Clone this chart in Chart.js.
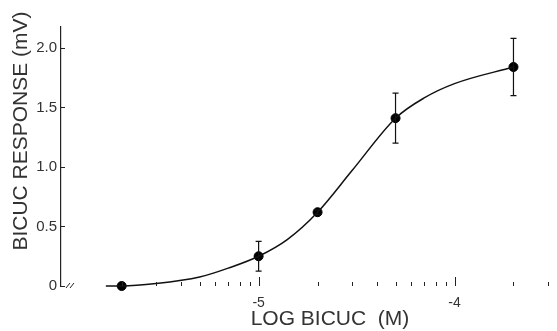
<!DOCTYPE html>
<html>
<head>
<meta charset="utf-8">
<script src="https://cdn.jsdelivr.net/npm/chart.js@4/dist/chart.umd.min.js"></script>
<style>
  html, body { margin: 0; padding: 0; background: #fff; }
</style>
</head>
<body>
<canvas id="grafico" width="557" height="331"></canvas>
<script>
// Dados: concentração de bicuculina (M) x resposta (mV)
var concentracoes = [2e-6, 1e-5, 2e-5, 5e-5, 2e-4];
var respostas = [0.0, 0.25, 0.62, 1.41, 1.84];
var erros = [0, 0.125, 0.02, 0.21, 0.24];

// Curva ajustada (pontos lidos ao longo da linha)
var curvaConc = [1.66e-6, 2e-6, 3e-6, 5e-6, 7e-6, 1e-5, 1.4e-5, 2e-5, 3e-5, 5e-5, 7e-5, 1e-4, 2e-4];
var curvaResp = [0.0, 0.0, 0.02, 0.075, 0.15, 0.25, 0.39, 0.62, 0.97, 1.41, 1.58, 1.70, 1.84];

// Marcas dos eixos
var marcasX = [
  2e-6, 3e-6, 4e-6, 5e-6, 6e-6, 7e-6, 8e-6, 9e-6,
  1e-5, 2e-5, 3e-5, 4e-5, 5e-5, 6e-5, 7e-5, 8e-5, 9e-5,
  1e-4, 2e-4, 3e-4,
];
var rotulosX = ["-5", "-4"];
var marcasY = [0, 0.5, 1.0, 1.5, 2.0];
var rotulosY = ["0", "0.5", "1.0", "1.5", "2.0"];

var tituloX = "LOG BICUC  (M)";
var tituloY = "BICUC RESPONSE (mV)";

var corTexto = "#333";
var fonte = "'Liberation Sans', Arial, sans-serif";

function ehDecada(v) {
  var lg = Math.log10(v);
  return Math.abs(lg - Math.round(lg)) < 1e-6;
}

// Barras de erro
var barrasErro = {
  id: "barrasErro",
  afterDatasetsDraw: function (chart) {
    var ctx = chart.ctx;
    var sx = chart.scales.x;
    var sy = chart.scales.y;
    ctx.save();
    ctx.strokeStyle = "#111";
    ctx.lineWidth = 1.2;
    for (var i = 0; i < concentracoes.length; i++) {
      if (!erros[i]) continue;
      var px = sx.getPixelForValue(concentracoes[i]);
      var topo = sy.getPixelForValue(respostas[i] + erros[i]);
      var base = sy.getPixelForValue(respostas[i] - erros[i]);
      ctx.beginPath();
      ctx.moveTo(px, topo);
      ctx.lineTo(px, base);
      ctx.moveTo(px - 3, topo);
      ctx.lineTo(px + 3, topo);
      ctx.moveTo(px - 3, base);
      ctx.lineTo(px + 3, base);
      ctx.stroke();
    }
    ctx.restore();
  },
};

// Marcas voltadas para dentro, quebra do eixo e títulos
var marcasInternas = {
  id: "marcasInternas",
  afterDraw: function (chart) {
    var ctx = chart.ctx;
    var area = chart.chartArea;
    var sx = chart.scales.x;
    var sy = chart.scales.y;
    ctx.save();
    ctx.strokeStyle = "#222";
    ctx.lineWidth = 1;
    sx.ticks.forEach(function (t) {
      var px = Math.round(sx.getPixelForValue(t.value)) + 0.5;
      var tam = ehDecada(t.value) ? 9 : 4;
      ctx.beginPath();
      ctx.moveTo(px, area.bottom);
      ctx.lineTo(px, area.bottom - tam);
      ctx.stroke();
    });
    sy.ticks.forEach(function (t) {
      var py = Math.round(sy.getPixelForValue(t.value)) + 0.5;
      ctx.beginPath();
      ctx.moveTo(area.left, py);
      ctx.lineTo(area.left + 4, py);
      ctx.stroke();
    });
    // quebra do eixo x
    ctx.beginPath();
    ctx.moveTo(area.left + 5, area.bottom + 2);
    ctx.lineTo(area.left + 9, area.bottom - 3);
    ctx.moveTo(area.left + 9, area.bottom + 2);
    ctx.lineTo(area.left + 13, area.bottom - 3);
    ctx.stroke();

    // títulos
    ctx.fillStyle = corTexto;
    ctx.font = "21px " + fonte;
    ctx.textAlign = "center";
    ctx.textBaseline = "middle";
    ctx.fillText(tituloX, 330, 319);
    ctx.translate(21, 131);
    ctx.rotate(-Math.PI / 2);
    ctx.fillText(tituloY, 0, 0);
    ctx.restore();
  },
};

var ctx = document.getElementById("grafico").getContext("2d");

new Chart(ctx, {
  type: "line",
  data: {
    datasets: [
      {
        label: "Curva",
        data: curvaConc.map(function (c, i) {
          return { x: c, y: curvaResp[i] };
        }),
        borderColor: "#111",
        borderWidth: 1.5,
        pointRadius: 0,
        cubicInterpolationMode: "monotone",
        fill: false,
        clip: false,
      },
      {
        label: "Resposta",
        data: concentracoes.map(function (c, i) {
          return { x: c, y: respostas[i] };
        }),
        showLine: false,
        pointRadius: 4.5,
        pointBackgroundColor: "#000",
        pointBorderColor: "#000",
        clip: false,
      },
    ],
  },
  options: {
    responsive: false,
    animation: false,
    layout: {
      padding: { top: 27, right: 0, left: 0, bottom: 0 },
    },
    plugins: {
      legend: { display: false },
      tooltip: { enabled: false },
    },
    scales: {
      x: {
        type: "logarithmic",
        min: 0.98e-6,
        max: 3.1e-4,
        grid: { display: false, drawTicks: false },
        border: { display: false },
        afterBuildTicks: function (scale) {
          scale.ticks = marcasX.map(function (v) {
            return { value: v };
          });
        },
        afterFit: function (scale) {
          scale.height = 45;
        },
        ticks: {
          autoSkip: false,
          maxRotation: 0,
          padding: 9,
          color: corTexto,
          font: { family: fonte, size: 14 },
          callback: function (value) {
            if (!ehDecada(value)) return "";
            var lg = String(Math.round(Math.log10(value)));
            return rotulosX.indexOf(lg) >= 0 ? lg : "";
          },
        },
      },
      y: {
        min: 0,
        max: 2.176,
        grid: { display: false, drawTicks: false },
        border: { display: true, color: "#222", width: 1.2 },
        afterBuildTicks: function (scale) {
          scale.ticks = marcasY.map(function (v) {
            return { value: v };
          });
        },
        afterFit: function (scale) {
          scale.width = 61;
        },
        ticks: {
          padding: 4,
          color: corTexto,
          font: { family: fonte, size: 15 },
          callback: function (value, index) {
            return rotulosY[index];
          },
        },
      },
    },
  },
  plugins: [barrasErro, marcasInternas],
});
</script>
</body>
</html>
